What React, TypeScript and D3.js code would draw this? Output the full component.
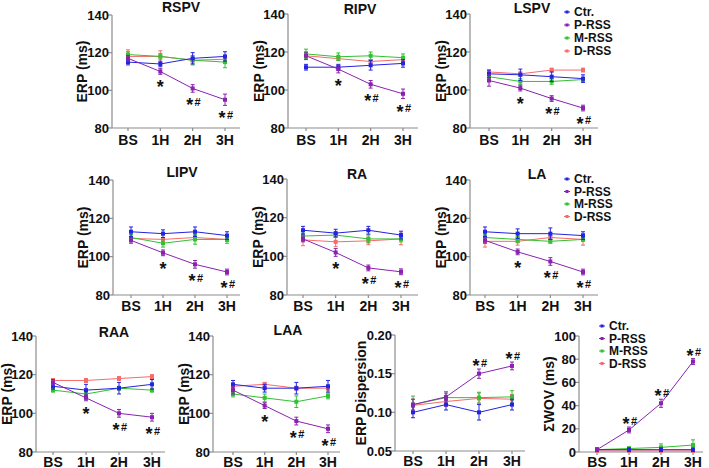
import React from "react";
import * as d3 from "d3";

// ---------- data ----------
const groups = ["BS", "1H", "2H", "3H"];
const seriesNames = ["Ctr.", "P-RSS", "M-RSS", "D-RSS"];
const seriesColors = ["#2323e0", "#8a22b0", "#33c033", "#f76a6a"];
const drawOrder = [3, 2, 0, 1];

const erpTicks = [80, 100, 120, 140];
const dispTicks = [0.05, 0.1, 0.15, 0.2];
const wovTicks = [0, 20, 40, 60, 80, 100];

// rows: Ctr., P-RSS, M-RSS, D-RSS
const rspvMean = [[115, 114, 117, 118], [117, 110, 101, 95], [119, 118, 116, 115], [118, 118, 116, 116.5]];
const rspvErr = [[1.5, 1.5, 3, 2.5], [1.5, 1.5, 2, 3], [1.5, 1.5, 2.5, 3], [3.5, 3, 1.5, 1.5]];
const ripvMean = [[112, 112, 113, 114], [118, 111, 103, 98], [119, 117.5, 118, 117], [118, 116.5, 115, 116]];
const ripvErr = [[1.5, 1.5, 2.5, 2], [2, 2, 2, 2.5], [2.5, 2, 2, 2], [1, 1, 1, 1]];
const lspvMean = [[108.5, 108, 107, 106], [105, 101, 95.5, 90.5], [107, 104.5, 104.5, 105.5], [109.5, 108.5, 110.5, 110.5]];
const lspvErr = [[2, 3, 2.5, 2], [3, 1.5, 1.5, 1.5], [1.5, 1.5, 1.5, 1], [1, 1, 1, 1]];
const lipvMean = [[113, 112, 113, 111], [108.5, 102, 96, 92], [110, 107, 109, 109], [109.5, 109, 110, 109]];
const lipvErr = [[2.5, 2, 2.5, 2], [1.5, 1.5, 2, 1.5], [1.5, 2, 2.5, 2], [1, 1, 1, 1]];
const raMean = [[113.5, 112, 113.5, 111], [109, 102, 94, 92], [110.5, 111, 109, 109], [108.5, 107.5, 108, 109]];
const raErr = [[2, 2, 2, 2], [1.5, 2, 1.5, 1.5], [1.5, 1, 2, 1.5], [3, 2.5, 2, 3]];
const laMean = [[113, 112, 112, 111], [108.5, 102.5, 97.5, 92], [110, 109, 108, 109], [108, 108, 110, 109]];
const laErr = [[2.5, 2.5, 3, 2], [1.5, 1.5, 2, 1.5], [1.5, 1.5, 1, 1], [3, 2, 1, 3]];
const raaMean = [[114, 112, 113, 115], [116, 108, 100, 98], [112, 110, 113, 112], [117, 117, 118, 119]];
const raaErr = [[1.5, 3, 3, 2.5], [1.5, 1.5, 2, 2], [1, 1, 1, 1], [1, 1, 1, 1]];
const laaMean = [[115, 113, 113, 114], [112, 104, 96, 92], [110, 108, 106, 109], [114, 115, 113, 113]];
const laaErr = [[2, 2, 3, 3], [2, 1.5, 2, 2], [1.5, 2, 3, 1.5], [1, 1, 1, 1]];
const dispMean = [[0.1, 0.11, 0.1, 0.11], [0.11, 0.12, 0.15, 0.16], [0.11, 0.119, 0.119, 0.12], [0.109, 0.114, 0.118, 0.117]];
const dispErr = [[0.007, 0.007, 0.01, 0.007], [0.007, 0.005, 0.006, 0.005], [0.011, 0.008, 0.007, 0.008], [0.008, 0.006, 0.007, 0.006]];
const wovMean = [[2, 2, 2, 2], [2, 19, 42, 78], [2, 3, 4, 6], [1, 1, 1, 1]];
const wovErr = [[1.5, 1.5, 1.5, 1.5], [1, 2.5, 3.5, 2.5], [1, 1.5, 3, 4.5], [0.5, 0.5, 0.5, 0.5]];

const erpSig = ["", "*", "*#", "*#"];
const dispSig = ["", "", "*#", "*#"];
const wovSig = ["", "*#", "*#", "*#"];

// ---------- layout ----------
type PanelCfg = {
  title?: string; titleX?: number; titleY?: number;
  ax: number; xEnd: number; top: number; bottom: number; x0: number; x1: number; xLabOff: number;
  yLabel: string; yLabelOff: number;
  domain: [number, number]; ticks: number[]; fmt: (v: number) => string;
  mean: number[][]; err: number[][]; sig: string[]; sigAbove?: boolean;
};

const erpFmt = (v: number) => String(v);
const font = "'Liberation Sans', Arial, sans-serif";

const panels: PanelCfg[] = [
  { title: "RSPV", titleX: 181, titleY: 12, ax: 112, xEnd: 240, top: 15, bottom: 128, x0: 128, x1: 225, xLabOff: 17, yLabel: "ERP (ms)", yLabelOff: 25, domain: [80, 140], ticks: erpTicks, fmt: erpFmt, mean: rspvMean, err: rspvErr, sig: erpSig },
  { title: "RIPV", titleX: 360, titleY: 14, ax: 288, xEnd: 418, top: 14, bottom: 128, x0: 306, x1: 403, xLabOff: 17, yLabel: "ERP (ms)", yLabelOff: 24, domain: [80, 140], ticks: erpTicks, fmt: erpFmt, mean: ripvMean, err: ripvErr, sig: erpSig },
  { title: "LSPV", titleX: 532, titleY: 13, ax: 470, xEnd: 598, top: 14, bottom: 128, x0: 489, x1: 583, xLabOff: 17, yLabel: "ERP (ms)", yLabelOff: 24, domain: [80, 140], ticks: erpTicks, fmt: erpFmt, mean: lspvMean, err: lspvErr, sig: erpSig },
  { title: "LIPV", titleX: 182, titleY: 177, ax: 113, xEnd: 240, top: 180, bottom: 295, x0: 131, x1: 227, xLabOff: 16, yLabel: "ERP (ms)", yLabelOff: 25, domain: [80, 140], ticks: erpTicks, fmt: erpFmt, mean: lipvMean, err: lipvErr, sig: erpSig },
  { title: "RA", titleX: 357, titleY: 179, ax: 287, xEnd: 418, top: 179, bottom: 295, x0: 303, x1: 401, xLabOff: 16, yLabel: "ERP (ms)", yLabelOff: 24, domain: [80, 140], ticks: erpTicks, fmt: erpFmt, mean: raMean, err: raErr, sig: erpSig },
  { title: "LA", titleX: 537, titleY: 179, ax: 470, xEnd: 598, top: 180, bottom: 295, x0: 485, x1: 583, xLabOff: 16, yLabel: "ERP (ms)", yLabelOff: 24, domain: [80, 140], ticks: erpTicks, fmt: erpFmt, mean: laMean, err: laErr, sig: erpSig },
  { title: "RAA", titleX: 114, titleY: 337, ax: 36, xEnd: 165, top: 336, bottom: 452, x0: 53, x1: 152, xLabOff: 14.5, yLabel: "ERP (ms)", yLabelOff: 24, domain: [80, 140], ticks: erpTicks, fmt: erpFmt, mean: raaMean, err: raaErr, sig: erpSig },
  { title: "LAA", titleX: 288, titleY: 335, ax: 213, xEnd: 340, top: 336, bottom: 452, x0: 233, x1: 328, xLabOff: 14.5, yLabel: "ERP (ms)", yLabelOff: 24, domain: [80, 140], ticks: erpTicks, fmt: erpFmt, mean: laaMean, err: laaErr, sig: erpSig },
  { ax: 395, xEnd: 525, top: 335, bottom: 451, x0: 413, x1: 512, xLabOff: 15, yLabel: "ERP Dispersion", yLabelOff: 29, domain: [0.05, 0.2], ticks: dispTicks, fmt: (v) => v.toFixed(2), mean: dispMean, err: dispErr, sig: dispSig, sigAbove: true },
  { ax: 579, xEnd: 703, top: 336, bottom: 452, x0: 597, x1: 693, xLabOff: 14.5, yLabel: "ΣWOV (ms)", yLabelOff: 25, domain: [0, 100], ticks: wovTicks, fmt: erpFmt, mean: wovMean, err: wovErr, sig: wovSig, sigAbove: true },
];

const legends = [
  { mx: 567, tx: 574, ys: [12, 25, 38, 51] },
  { mx: 567, tx: 574, ys: [179, 191.5, 204, 216.5] },
  { mx: 602, tx: 609, ys: [326, 338.5, 351, 363.5] },
];

const axisColor = "#8c8c8c";

function Sig({ cx, cy, label }: { cx: number; cy: number; label: string }) {
  if (!label) return null;
  const hasHash = label.includes("#");
  return (
    <g fontFamily={font} fontWeight="bold" fill="#111" textAnchor="middle">
      <text x={hasHash ? cx - 3 : cx} y={cy + 11} fontSize={18}>*</text>
      {hasHash && <text x={cx + 5} y={cy + 5.5} fontSize={11}>#</text>}
    </g>
  );
}

function Panel({ p }: { p: PanelCfg }) {
  const x = d3.scalePoint<string>().domain(groups).range([p.x0, p.x1]);
  const y = d3.scaleLinear().domain(p.domain).range([p.bottom, p.top]);
  const midY = (p.top + p.bottom) / 2;
  const line = d3.line<number>().x((_, i) => x(groups[i]) as number).y((v) => y(v));
  const pIdx = 1;
  return (
    <g>
      {p.title && (
        <text x={p.titleX} y={p.titleY} textAnchor="middle" fontFamily={font} fontWeight="bold" fontSize={14} fill="#111">{p.title}</text>
      )}
      <line x1={p.ax} x2={p.ax} y1={p.top} y2={p.bottom} stroke={axisColor} strokeWidth={1.2} />
      <line x1={p.ax} x2={p.xEnd} y1={p.bottom} y2={p.bottom} stroke={axisColor} strokeWidth={1.2} />
      {p.ticks.map((t) => (
        <g key={t}>
          <line x1={p.ax - 4} x2={p.ax} y1={y(t)} y2={y(t)} stroke={axisColor} strokeWidth={1.2} />
          <text x={p.ax - 3} y={y(t)} dy="0.36em" textAnchor="end" fontFamily={font} fontWeight="bold" fontSize={13} fill="#111">{p.fmt(t)}</text>
        </g>
      ))}
      {groups.map((g) => (
        <g key={g}>
          <line x1={x(g)} x2={x(g)} y1={p.bottom} y2={p.bottom + 3} stroke={axisColor} strokeWidth={1.2} />
          <text x={x(g)} y={p.bottom + p.xLabOff} textAnchor="middle" fontFamily={font} fontWeight="bold" fontSize={14} fill="#111">{g}</text>
        </g>
      ))}
      <text transform={`translate(${p.ax - p.yLabelOff},${midY}) rotate(-90)`} textAnchor="middle" fontFamily={font} fontWeight="bold" fontSize={14} fill="#111">{p.yLabel}</text>
      {drawOrder.map((si) => {
        const c = seriesColors[si];
        const m = p.mean[si];
        const e = p.err[si];
        return (
          <g key={si}>
            <path d={line(m) || ""} fill="none" stroke={c} strokeWidth={1} />
            {m.map((v, i) => {
              const cx = x(groups[i]) as number;
              return (
                <g key={i}>
                  <line x1={cx} x2={cx} y1={y(v - e[i])} y2={y(v + e[i])} stroke={c} strokeWidth={1} />
                  <line x1={cx - 2} x2={cx + 2} y1={y(v + e[i])} y2={y(v + e[i])} stroke={c} strokeWidth={1} />
                  <line x1={cx - 2} x2={cx + 2} y1={y(v - e[i])} y2={y(v - e[i])} stroke={c} strokeWidth={1} />
                  <rect x={cx - 2} y={y(v) - 2} width={4} height={4} fill={c} />
                </g>
              );
            })}
          </g>
        );
      })}
      {p.sig.map((s, i) => {
        const v = p.mean[pIdx][i];
        const e = p.err[pIdx][i];
        const cx = x(groups[i]) as number;
        const cy = p.sigAbove ? y(v + e) - 8 : y(v - e) + 8;
        return <Sig key={i} cx={cx} cy={cy} label={s} />;
      })}
    </g>
  );
}

export default function App() {
  return (
    <svg width={709} height={468} style={{ position: "absolute", left: 0, top: 0, background: "#fff" }}>
      <rect width={709} height={468} fill="#fff" />
      {panels.map((p, i) => (
        <Panel key={i} p={p} />
      ))}
      {legends.map((L, li) => (
        <g key={li}>
          {seriesNames.map((n, i) => (
            <g key={n}>
              <line x1={L.mx - 3} x2={L.mx + 3} y1={L.ys[i]} y2={L.ys[i]} stroke={seriesColors[i]} strokeWidth={1} />
              <rect x={L.mx - 1.5} y={L.ys[i] - 1.5} width={3} height={3} fill={seriesColors[i]} />
              <text x={L.tx} y={L.ys[i]} dy="0.36em" fontFamily={font} fontWeight="bold" fontSize={12} fill="#111">{n}</text>
            </g>
          ))}
        </g>
      ))}
    </svg>
  );
}
